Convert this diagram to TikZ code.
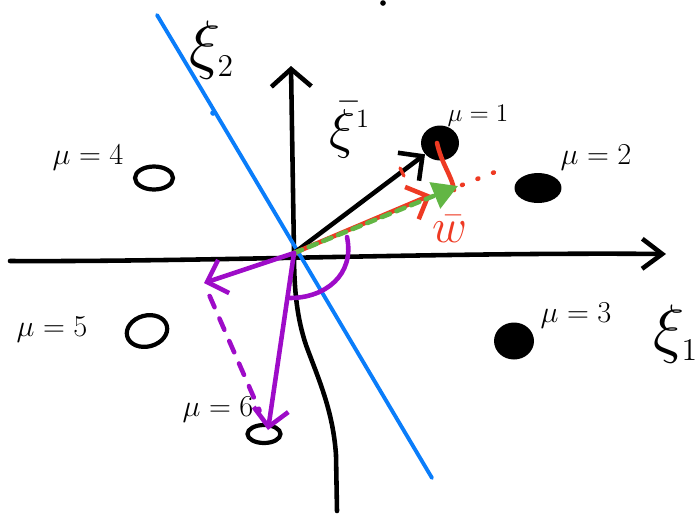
\documentclass[tikz,border=0pt]{standalone}
\usepackage{amsmath}
\usepackage{amssymb}
\usetikzlibrary{arrows.meta}
\usetikzlibrary{shapes.geometric}

\definecolor{skblue}{RGB}{10,125,250}
\definecolor{skred}{RGB}{238,58,35}
\definecolor{skgreen}{RGB}{98,182,68}
\definecolor{skpurple}{RGB}{158,12,200}

\tikzset{
  pen/.style={line width=2.6pt, line cap=round, line join=round},
  fdot/.style={ellipse, fill=black, inner sep=0pt},
  odot/.style={ellipse, draw=black, line width=2.4pt, inner sep=0pt},
  mulabel/.style={font=\fontsize{16}{18}\selectfont},
  xilabel/.style={font=\fontsize{24}{28}\selectfont, scale=1.5, inner sep=1pt},
  barb/.style={-{Straight Barb[length=3.5mm, width=7mm]}}
}

\begin{document}
\begin{tikzpicture}[x=0.02cm, y=-0.02cm]
\useasboundingbox (0,0) rectangle (697,515);

\coordinate (O) at (294,253);
\coordinate (Xl) at (10,261);
\coordinate (Xr) at (666,254);
\coordinate (Yb) at (337,511);
\coordinate (Yt) at (291,66);
\coordinate (Bt) at (157,15);
\coordinate (Bb) at (432,478);
\coordinate (W) at (431,195);
\coordinate (G) at (458,186);
\coordinate (P1) at (204,283);
\coordinate (P2) at (268,430);

\node[fdot, minimum width=0.76cm, minimum height=0.7cm] (m1) at (440,143) {};
\node[fdot, minimum width=0.94cm, minimum height=0.6cm] (m2) at (538,188) {};
\node[fdot, minimum width=0.8cm, minimum height=0.74cm] (m3) at (514,341) {};
\node[odot, minimum width=0.76cm, minimum height=0.46cm] (m4) at (154,178) {};
\node[odot, minimum width=0.82cm, minimum height=0.62cm, rotate=15] (m5) at (147,331) {};
\node[odot, minimum width=0.66cm, minimum height=0.36cm] (m6) at (264,434) {};

\draw[pen, -{Straight Barb[length=4mm, width=6mm]}] (Xl) .. controls (200,262) and (450,252) .. (Xr);
\draw[pen, -{Straight Barb[length=3.5mm, width=8mm]}] (Yb) -- (336,455)
  .. controls (333,410) and (318,378) .. (306,345)
  .. controls (297,318) and (294,290) .. (O) -- (Yt);

\draw[skblue, line width=2.2pt, line cap=round] (Bt) .. controls (250,170) and (350,340) .. (Bb);
\fill[skblue] (213,113) circle (1.6pt);
\fill (383,3) circle (1.6pt);

\draw[pen, barb] (O) -- (m1);
\draw[skred, line width=1.8pt, line cap=round] (400,168) -- (404,176);

\draw[skred, pen, barb] (O) -- (W);
\draw[skred, pen] (437,143) .. controls (442,165) and (452,176) .. (454,190);
\draw[skred, pen, dash pattern=on 0.5pt off 9pt] (462,185) -- (495,172);
\draw[skgreen, pen, dash pattern=on 5pt off 4pt,
  -{Triangle[length=5mm, width=5.5mm]}] (O) -- (G);

\draw[skpurple, pen, barb] (O) -- (P1);
\draw[skpurple, pen, barb] (O) -- (P2);
\draw[skpurple, pen, dash pattern=on 7pt off 7pt, shorten <=8pt, shorten >=12pt] (P1) -- (P2);
\draw[skpurple, pen] (347,237) .. controls (355,275) and (325,298) .. (290,298);

\node[font=\fontsize{14}{16}\selectfont] (l1) at (478,116) {$\mu=1$};
\node[mulabel] (l2) at (596,158) {$\mu=2$};
\node[mulabel] (l3) at (576,316) {$\mu=3$};
\node[mulabel] (l4) at (88,158) {$\mu=4$};
\node[mulabel] (l5) at (52,330) {$\mu=5$};
\node[mulabel] (l6) at (218,410) {$\mu=6$};

\node[xilabel] (x2) at (212,50) {$\xi_{\scriptscriptstyle 2}$};
\node[xilabel] (x1) at (676,334) {$\xi_{\scriptscriptstyle 1}$};
\node[font=\fontsize{24}{28}\selectfont, scale=1.25, inner sep=1pt] (xb) at (350,130) {$\bar{\xi}^{\scriptscriptstyle 1}$};
\node[skred, font=\fontsize{24}{28}\selectfont, scale=1.1, inner sep=1pt] (wb) at (450,229) {$\bar{w}$};
\end{tikzpicture}
\end{document}
